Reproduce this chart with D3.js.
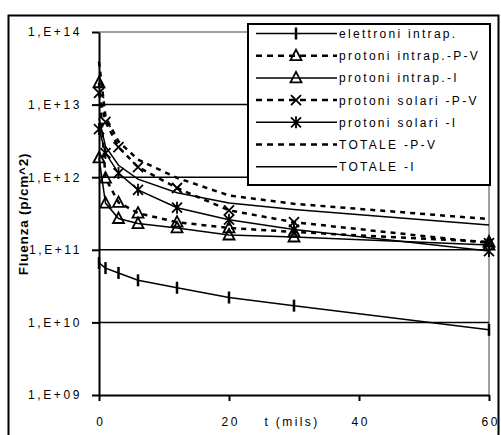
<!DOCTYPE html>
<html>
<head>
<meta charset="utf-8">
<script src="https://cdn.jsdelivr.net/npm/d3@7"></script>
<style>
  body { margin: 0; background: #fff; }
  text { font-family: "Liberation Sans", Arial, sans-serif; }
</style>
</head>
<body>
<div id="chart"></div>
<script>
// x values (mils)
var tMils = [0, 1, 3, 6, 12, 20, 30, 60];

// fluence values (p/cm^2)
var elettroni      = [6.6e10, 5.6e10, 4.8e10, 3.8e10, 3.0e10, 2.2e10, 1.7e10, 7.9e9];
var intrapPV       = [2.0e13, 9.7e11, 4.5e11, 3.2e11, 2.4e11, 2.0e11, 1.76e11, 1.28e11];
var intrapI        = [1.84e12, 4.4e11, 2.7e11, 2.3e11, 2.0e11, 1.6e11, 1.5e11, 1.16e11];
var solariPV       = [1.45e13, 5.8e12, 2.6e12, 1.38e12, 7.1e11, 3.5e11, 2.4e11, 1.24e11];
var solariI        = [4.6e12, 2.15e12, 1.14e12, 6.7e11, 3.8e11, 2.6e11, 1.9e11, 9.6e10];
var totalePV       = [3.9e13, 6.8e12, 3.1e12, 1.75e12, 9.8e11, 5.6e11, 4.3e11, 2.65e11];
var totaleI        = [6.5e12, 2.65e12, 1.46e12, 9.4e11, 6.1e11, 4.4e11, 3.6e11, 2.2e11];

var seriesNames = ["elettroni intrap.", "protoni intrap.-P-V", "protoni intrap.-I",
                   "protoni solari -P-V", "protoni solari -I", "TOTALE -P-V", "TOTALE -I"];
var yTickValues = [1e9, 1e10, 1e11, 1e12, 1e13, 1e14];
var yTickLabels = ["1,E+09", "1,E+10", "1,E+11", "1,E+12", "1,E+13", "1,E+14"];
var xTickValues = [0, 20, 40, 60];

var series = [
  {name: seriesNames[0], values: elettroni, dashed: false, marker: "bar"},
  {name: seriesNames[1], values: intrapPV,  dashed: true,  marker: "tri"},
  {name: seriesNames[2], values: intrapI,   dashed: false, marker: "tri"},
  {name: seriesNames[3], values: solariPV,  dashed: true,  marker: "x"},
  {name: seriesNames[4], values: solariI,   dashed: false, marker: "star"},
  {name: seriesNames[5], values: totalePV,  dashed: true,  marker: null},
  {name: seriesNames[6], values: totaleI,   dashed: false, marker: null}
];

var W = 501, H = 435;
var svg = d3.select("#chart").append("svg")
    .attr("width", W)
    .attr("height", H);

// outer chart border
svg.append("rect")
    .attr("x", 8.5).attr("y", 15.5)
    .attr("width", 490).attr("height", 430)
    .attr("fill", "none").attr("stroke", "#000").attr("stroke-width", 2);

var xScale = d3.scaleLinear().domain([0, 60]).range([99, 489]);
var yScale = d3.scaleLog().domain([1e9, 1e14]).range([395, 32]);

// plot area frame (grey) + gridlines
svg.append("line")
    .attr("x1", xScale(0)).attr("x2", xScale(60))
    .attr("y1", yScale(1e14)).attr("y2", yScale(1e14))
    .attr("stroke", "#808080").attr("stroke-width", 1.5);
svg.append("line")
    .attr("x1", xScale(60)).attr("x2", xScale(60))
    .attr("y1", yScale(1e14)).attr("y2", yScale(1e9))
    .attr("stroke", "#808080").attr("stroke-width", 1.5);

svg.append("g").selectAll("line")
    .data(yTickValues.slice(1, 5))
    .enter().append("line")
    .attr("x1", xScale(0)).attr("x2", xScale(60))
    .attr("y1", function(d) { return yScale(d); })
    .attr("y2", function(d) { return yScale(d); })
    .attr("stroke", "#000").attr("stroke-width", 1.5);

// axes
var yAxis = svg.append("g")
    .attr("transform", "translate(" + xScale(0) + ",0)")
    .call(d3.axisLeft(yScale).tickValues(yTickValues)
        .tickFormat(function(d, i) { return yTickLabels[i]; })
        .tickSizeInner(7).tickSizeOuter(0).tickPadding(10));
var xAxis = svg.append("g")
    .attr("transform", "translate(0," + yScale(1e9) + ")")
    .call(d3.axisBottom(xScale).tickValues(xTickValues)
        .tickSizeInner(6).tickSizeOuter(0).tickPadding(16));

[yAxis, xAxis].forEach(function(ax) {
  ax.select(".domain").attr("stroke", "#000").attr("stroke-width", 2);
  ax.selectAll(".tick line").attr("stroke", "#000").attr("stroke-width", 2);
  ax.selectAll(".tick text")
      .attr("font-family", "Liberation Sans, Arial, sans-serif")
      .attr("font-size", 12)
      .attr("letter-spacing", 2.6)
      .attr("fill", "#000");
});
xAxis.selectAll(".tick text").attr("dx", 1.3);

// axis titles
svg.append("text")
    .attr("x", 292).attr("y", 426)
    .attr("text-anchor", "middle")
    .attr("font-size", 12)
    .attr("letter-spacing", 2.4)
    .text("t (mils)");

svg.append("text")
    .attr("transform", "translate(28,214) rotate(-90)")
    .attr("text-anchor", "middle")
    .attr("font-size", 13.5)
    .attr("font-weight", "bold")
    .attr("letter-spacing", 0.8)
    .text("Fluenza (p/cm^2)");

// lines
var valueLine = d3.line()
    .x(function(d, i) { return xScale(tMils[i]); })
    .y(function(d) { return yScale(d); });

function drawMarker(g, type, x, y) {
  if (type === "bar") {
    g.append("line").attr("x1", x).attr("x2", x).attr("y1", y - 6).attr("y2", y + 6)
        .attr("stroke", "#000").attr("stroke-width", 2.5);
  } else if (type === "tri") {
    g.append("path")
        .attr("d", "M" + x + "," + (y - 6) + "L" + (x + 5.5) + "," + (y + 4.5) + "L" + (x - 5.5) + "," + (y + 4.5) + "Z")
        .attr("fill", "none").attr("stroke", "#000").attr("stroke-width", 1.8);
  } else if (type === "x" || type === "star") {
    var s = 5;
    g.append("path")
        .attr("d", "M" + (x - s) + "," + (y - s) + "L" + (x + s) + "," + (y + s) +
                   "M" + (x - s) + "," + (y + s) + "L" + (x + s) + "," + (y - s) +
                   (type === "star" ? "M" + x + "," + (y - 6) + "L" + x + "," + (y + 6) : ""))
        .attr("fill", "none").attr("stroke", "#000").attr("stroke-width", 1.8);
  }
}

var plot = svg.append("g");
series.forEach(function(s) {
  plot.append("path")
      .datum(s.values)
      .attr("d", valueLine)
      .attr("fill", "none")
      .attr("stroke", "#000")
      .attr("stroke-width", s.dashed ? 2.5 : 1.5)
      .attr("stroke-dasharray", s.dashed ? "5,5" : null);
  if (s.marker) {
    s.values.forEach(function(v, i) {
      drawMarker(plot, s.marker, xScale(tMils[i]), yScale(v));
    });
  }
});

// legend
var legend = svg.append("g");
legend.append("rect")
    .attr("x", 248).attr("y", 24)
    .attr("width", 242).attr("height", 161)
    .attr("fill", "#fff").attr("stroke", "#000").attr("stroke-width", 2);

series.forEach(function(s, i) {
  var ly = 33.5 + i * 22.2;
  legend.append("line")
      .attr("x1", 256).attr("x2", 337)
      .attr("y1", ly).attr("y2", ly)
      .attr("stroke", "#000")
      .attr("stroke-width", s.dashed ? 2.5 : 1.5)
      .attr("stroke-dasharray", s.dashed ? "6,5" : null);
  if (s.marker) drawMarker(legend, s.marker, 296, ly);
  legend.append("text")
      .attr("x", 339).attr("y", ly + 4.5)
      .attr("font-size", 12)
      .attr("letter-spacing", 2.3)
      .text(s.name);
});
</script>
</body>
</html>
